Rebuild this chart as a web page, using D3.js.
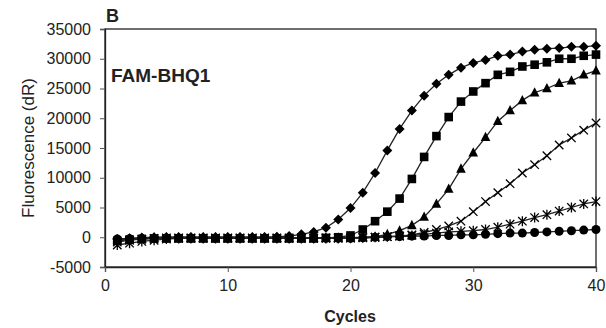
<!DOCTYPE html>
<html><head><meta charset="utf-8">
<script src="https://cdn.jsdelivr.net/npm/d3@7"></script>
<style>
html,body{margin:0;padding:0;background:#fff;}
svg{display:block;font-family:"Liberation Sans",Arial,sans-serif;}
</style></head>
<body><svg id="c" width="606" height="328"></svg>
<script>
const cycles = [1,2,3,4,5,6,7,8,9,10,11,12,13,14,15,16,17,18,19,20,21,22,23,24,25,26,27,28,29,30,31,32,33,34,35,36,37,38,39,40];
const diamondVals = [-300,-150,-50,0,50,50,50,50,50,50,50,50,50,100,200,500,900,1600,3000,4900,7500,10800,14600,18200,21300,23800,25800,27300,28500,29300,29800,30500,30700,31200,31500,31700,31800,32000,32000,32200];
const squareVals = [-600,-400,-300,-200,-200,-200,-200,-200,-200,-200,-200,-200,-200,-200,-200,-200,-200,-100,0,300,1300,2700,4300,6500,9800,13500,17000,20200,22800,24500,25900,27300,27800,28700,29000,29400,30000,30000,30500,30700];
const triangleVals = [-400,-300,-200,-100,-100,-100,-100,-100,-100,-100,-100,-100,-100,-100,-100,-100,-100,-100,-100,-50,0,100,500,1100,2000,3400,5600,8100,11500,14200,16800,19500,21300,23000,24300,25000,25900,26300,27300,28000];
const crossVals = [-800,-500,-300,-200,-100,-100,-100,-100,-100,-100,-100,-100,-100,-100,-100,-100,-100,-100,-100,-100,-50,0,100,200,400,800,1300,1900,2700,4300,6000,7500,9000,10800,12200,13700,15500,16700,18000,19200];
const starVals = [-1300,-1000,-700,-500,-300,-200,-200,-200,-200,-200,-200,-200,-200,-200,-200,-200,-200,-200,-200,-150,-100,0,100,200,300,500,700,900,1000,1100,1300,1700,2200,2700,3300,3800,4400,5000,5600,6000];
const circleVals = [-300,-250,-200,-200,-200,-200,-200,-200,-200,-200,-200,-200,-200,-200,-200,-200,-200,-200,-200,-200,-100,0,100,100,200,200,300,300,400,400,500,600,700,700,800,900,1000,1100,1200,1300];
const yTicks = [-5000,0,5000,10000,15000,20000,25000,30000,35000];
const xTicks = [0,10,20,30,40];

const series = [
  {name:"diamond", vals: diamondVals},
  {name:"square", vals: squareVals},
  {name:"triangle", vals: triangleVals},
  {name:"cross", vals: crossVals},
  {name:"star", vals: starVals},
  {name:"circle", vals: circleVals}
];

const svg = d3.select("#c");
const L = 105, R = 596, T = 29, B = 267;
const x = d3.scaleLinear().domain([0,40]).range([L,R]);
const y = d3.scaleLinear().domain([-5000,35000]).range([B,T]);

// frame
svg.append("rect").attr("x",L).attr("y",T).attr("width",R-L).attr("height",B-T)
  .attr("fill","none").attr("stroke","#222").attr("stroke-width",1.3);

// y axis
const ya = svg.append("g").attr("transform",`translate(${L},0)`)
  .call(d3.axisLeft(y).tickValues(yTicks).tickFormat(d => String(d)).tickSize(5).tickPadding(9));
ya.select(".domain").attr("stroke","#222").attr("stroke-width",1.3);
ya.selectAll(".tick line").attr("stroke","#555");
ya.selectAll("text").attr("font-size",16).attr("fill","#222").attr("font-family","Liberation Sans, Arial, sans-serif");

// x axis
const xa = svg.append("g").attr("transform",`translate(0,${B})`)
  .call(d3.axisBottom(x).tickValues(xTicks).tickFormat(d => String(d)).tickSize(5).tickPadding(8));
xa.select(".domain").attr("stroke","#222").attr("stroke-width",1.3);
xa.selectAll(".tick line").attr("stroke","#555");
xa.selectAll("text").attr("font-size",16).attr("fill","#222").attr("font-family","Liberation Sans, Arial, sans-serif");

// labels
svg.append("text").attr("x",350).attr("y",322).attr("text-anchor","middle")
  .attr("font-size",16).attr("font-weight","bold").attr("fill","#222").text("Cycles");
svg.append("text").attr("transform","translate(34,148) rotate(-90)").attr("text-anchor","middle")
  .attr("font-size",17).attr("fill","#222").text("Fluorescence (dR)");
svg.append("text").attr("x",106).attr("y",22).attr("font-size",18).attr("font-weight","bold").attr("fill","#222").text("B");
svg.append("text").attr("x",111).attr("y",82).attr("font-size",19).attr("font-weight","bold").attr("fill","#222").text("FAM-BHQ1");

const line = d3.line().x((d,i)=>x(cycles[i])).y(d=>y(d));

const g = svg.append("g");
series.forEach(s=>{
  g.append("path").attr("d",line(s.vals)).attr("fill","none").attr("stroke","#222").attr("stroke-width",1.3);
});

function marker(sel, type){
  if(type==="diamond"){
    sel.append("path").attr("d","M0,-5L5,0L0,5L-5,0Z").attr("fill","#000");
  } else if(type==="square"){
    sel.append("rect").attr("x",-4.3).attr("y",-4.3).attr("width",8.6).attr("height",8.6).attr("fill","#000");
  } else if(type==="triangle"){
    sel.append("path").attr("d","M0,-5.5L4.8,3.8L-4.8,3.8Z").attr("fill","#000");
  } else if(type==="circle"){
    sel.append("circle").attr("r",4.5).attr("fill","#000");
  } else if(type==="cross"){
    sel.append("path").attr("d","M-4.2,-4.2L4.2,4.2M-4.2,4.2L4.2,-4.2").attr("stroke","#000").attr("stroke-width",1.3).attr("fill","none");
  } else if(type==="star"){
    sel.append("path").attr("d","M-4.2,-4.2L4.2,4.2M-4.2,4.2L4.2,-4.2M0,-5L0,5").attr("stroke","#000").attr("stroke-width",1.3).attr("fill","none");
  }
}

series.forEach(s=>{
  s.vals.forEach((v,i)=>{
    const m = g.append("g").attr("transform",`translate(${x(cycles[i])},${y(v)})`);
    marker(m, s.name);
  });
});
</script>
</body></html>
